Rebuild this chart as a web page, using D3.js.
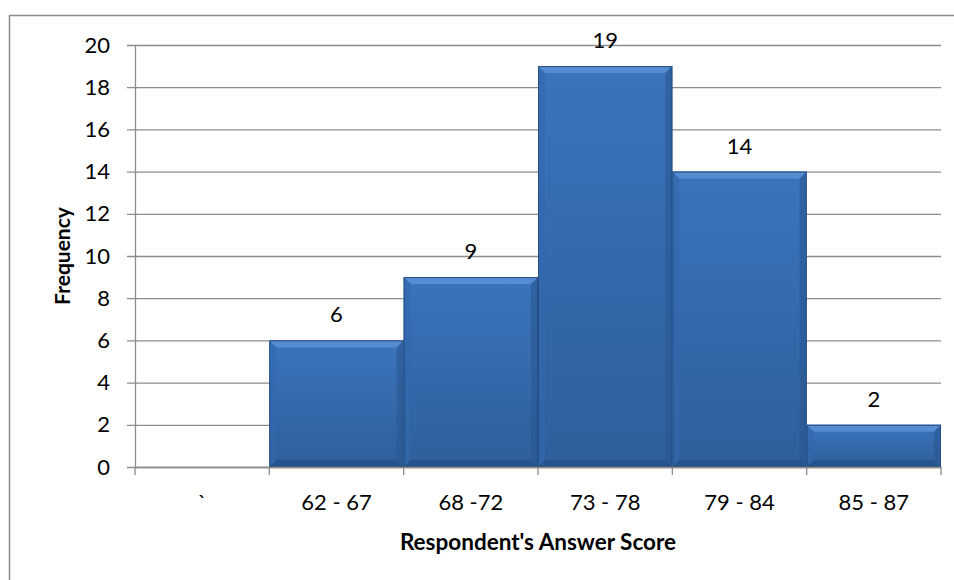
<!DOCTYPE html>
<html>
<head>
<meta charset="utf-8">
<script src="https://cdn.jsdelivr.net/npm/d3@7"></script>
<style>
  body { margin: 0; background: #fff; }
  svg text { font-family: Lato, "Open Sans", sans-serif; fill: #000; }
</style>
</head>
<body>
<div id="chart"></div>
<script>
// chart data
var categories = ["`", "62 - 67", "68 -72", "73 - 78", "79 - 84", "85 - 87"];
var frequency = [0, 6, 9, 19, 14, 2];
var yTicks = [0, 2, 4, 6, 8, 10, 12, 14, 16, 18, 20];

var W = 954, H = 580;
var margin = {top: 45, right: 13, bottom: 113, left: 135},
    width = W - margin.left - margin.right,
    height = H - margin.top - margin.bottom;

var svg = d3.select("#chart").append("svg")
    .attr("width", W).attr("height", H);

// outer frame (runs off the right and bottom edges)
svg.append("rect")
    .attr("x", 9.5).attr("y", 15.5)
    .attr("width", W + 20).attr("height", H + 20)
    .attr("fill", "none").attr("stroke", "#8c8c8c").attr("stroke-width", 1.5);

var defs = svg.append("defs");
var grad = defs.append("linearGradient").attr("id", "barGrad")
    .attr("x1", 0).attr("y1", 0).attr("x2", 0).attr("y2", 1);
grad.append("stop").attr("offset", "0%").attr("stop-color", "#3b74bb");
grad.append("stop").attr("offset", "100%").attr("stop-color", "#2f5e9c");

var g = svg.append("g")
    .attr("transform", "translate(" + margin.left + "," + margin.top + ")");

var x = d3.scaleBand().domain(categories).range([0, width]).padding(0);
var y = d3.scaleLinear().domain([0, 20]).range([height, 0]);

// gridlines + y axis
var yAxis = d3.axisLeft(y).tickValues(yTicks).tickSize(-width).tickPadding(25);
var ya = g.append("g").call(yAxis);
ya.select(".domain").remove();
ya.selectAll(".tick line").attr("stroke", "#8c8c8c").attr("stroke-width", 1.3).attr("x1", -8);
ya.selectAll(".tick text").style("font-size", "22px");
g.append("line").attr("x1", 0.5).attr("x2", 0.5).attr("y1", 0).attr("y2", height)
    .attr("stroke", "#8c8c8c").attr("stroke-width", 1.3);

// bars
var bev = 7;
var bars = g.selectAll("g.bar").data(categories.map(function(c, i) { return {c: c, v: frequency[i]}; }))
  .enter().append("g").attr("class", "bar")
  .filter(function(d) { return d.v > 0; });

bars.append("rect")
    .attr("x", function(d) { return x(d.c); })
    .attr("y", function(d) { return y(d.v); })
    .attr("width", x.bandwidth())
    .attr("height", function(d) { return height - y(d.v); })
    .attr("fill", "url(#barGrad)");

function poly(pts) { return "M" + pts.map(function(p) { return p.join(","); }).join("L") + "Z"; }
bars.append("path").attr("fill", "#5a8fd3").attr("opacity", 0.9)
    .attr("d", function(d) {
      var x0 = x(d.c), x1 = x0 + x.bandwidth(), t = y(d.v);
      return poly([[x0, t], [x1, t], [x1 - bev, t + bev], [x0 + bev, t + bev]]);
    });
bars.append("path").attr("fill", "#2a5791").attr("opacity", 0.6)
    .attr("d", function(d) {
      var x0 = x(d.c), x1 = x0 + x.bandwidth(), t = y(d.v), b = height;
      return poly([[x1, t], [x1, b], [x1 - bev, b - bev], [x1 - bev, t + bev]]);
    });
bars.append("path").attr("fill", "#3468ad").attr("opacity", 0.6)
    .attr("d", function(d) {
      var x0 = x(d.c), t = y(d.v), b = height;
      return poly([[x0, t], [x0 + bev, t + bev], [x0 + bev, b - bev], [x0, b]]);
    });
bars.append("path").attr("fill", "#24508a").attr("opacity", 0.8)
    .attr("d", function(d) {
      var x0 = x(d.c), x1 = x0 + x.bandwidth(), b = height;
      return poly([[x0, b], [x0 + bev, b - bev], [x1 - bev, b - bev], [x1, b]]);
    });
bars.append("rect")
    .attr("x", function(d) { return x(d.c) + 0.5; })
    .attr("y", function(d) { return y(d.v) + 0.5; })
    .attr("width", x.bandwidth() - 1)
    .attr("height", function(d) { return height - y(d.v) - 1; })
    .attr("fill", "none").attr("stroke", "#254f85").attr("stroke-width", 1);

// value labels
bars.append("text")
    .attr("x", function(d) { return x(d.c) + x.bandwidth() / 2; })
    .attr("y", function(d) { return y(d.v) - 18; })
    .attr("text-anchor", "middle")
    .style("font-size", "22px")
    .text(function(d) { return d.v; });

// x axis
var xa = g.append("g").attr("transform", "translate(0," + height + ")")
    .call(d3.axisBottom(x).tickSize(0).tickPadding(27));
xa.select(".domain").attr("stroke", "#8c8c8c").attr("stroke-width", 1.5);
xa.selectAll(".tick text").style("font-size", "22px");
var xBounds = categories.map(function(c) { return x(c); }).concat([width]);
xa.selectAll("line.sep").data(xBounds).enter().append("line").attr("class", "sep")
    .attr("x1", function(d) { return d; }).attr("x2", function(d) { return d; })
    .attr("y1", 0).attr("y2", 8)
    .attr("stroke", "#8c8c8c").attr("stroke-width", 1.3);

// axis titles
svg.append("text")
    .attr("x", margin.left + width / 2).attr("y", 550)
    .attr("text-anchor", "middle")
    .style("font-size", "22.5px").style("font-weight", "bold")
    .text("Respondent's Answer Score");
svg.append("text")
    .attr("transform", "translate(70," + (margin.top + height / 2) + ") rotate(-90)")
    .attr("text-anchor", "middle")
    .style("font-size", "21px").style("font-weight", "bold")
    .text("Frequency");
</script>
</body>
</html>
